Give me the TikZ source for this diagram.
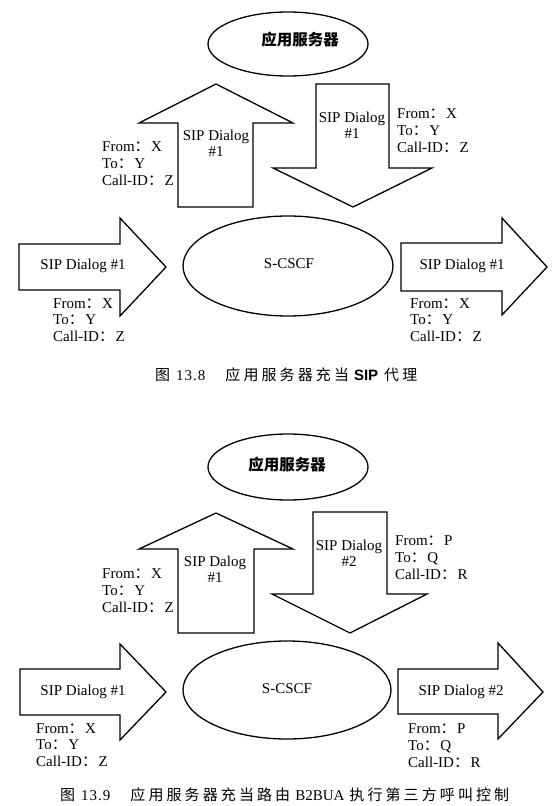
\documentclass[tikz,border=0pt]{standalone}
\usepackage{fontspec}
\setmainfont{Liberation Serif}
\newfontfamily\cjk{Noto Sans CJK SC}
\newfontfamily\capsans{Liberation Sans}
\usetikzlibrary{shapes.geometric}
\newcommand{\cc}{{\cjk ：}\hspace{1.5pt}}
\newcommand{\ck}{\hspace{3.1pt}}
\begin{document}
\begin{tikzpicture}[x=1pt,y=-1pt,
  blockarrow/.style={draw=black,line width=1.3pt,line join=miter,fill=white},
  oval/.style={draw=black,line width=1.3pt,ellipse,inner sep=0pt,fill=white},
  lbl/.style={inner sep=0pt,font=\fontsize{15}{16.8}\selectfont,align=left,anchor=west},
  atext/.style={inner sep=0pt,font=\fontsize{15}{16}\selectfont,align=center},
  astext/.style={inner sep=0pt,font=\cjk\bfseries\fontsize{15.5}{16}\selectfont},
  captext/.style={inner sep=0pt,anchor=west,font=\cjk\fontsize{15}{16}\selectfont}]
\useasboundingbox (0,0) rectangle (555,806);
\fill[white] (0,0) rectangle (555,806);

% ================= Figure 13.8 =================
\node[oval,minimum width=160pt,minimum height=64pt] (asA) at (288,44) {};
\node[astext] (asAt) at (300,40) {应用服务器};

\draw[blockarrow] (178,207) -- (178,123) -- (139,123) -- (216,84) -- (293,123) -- (253,123) -- (253,207) -- cycle;
\node[atext] (upA) at (216,143) {SIP Dialog\\\#1};
\node[lbl] (upAl) at (102,163.5) {From\cc X\\To\cc Y\\Call-ID\cc Z};

\draw[blockarrow] (316,84) -- (389,84) -- (389,168) -- (432,168) -- (353,207) -- (273,168) -- (316,168) -- cycle;
\node[atext] (dnA) at (352,125) {SIP Dialog\\\#1};
\node[lbl] (dnAl) at (397,130.5) {From\cc X\\To\cc Y\\Call-ID\cc Z};

\node[oval,minimum width=210pt,minimum height=100pt] (csA) at (288,266) {};
\node[atext] (csAt) at (289,264) {S-CSCF};

\draw[blockarrow] (19,244) -- (120,244) -- (120,218) -- (166,267) -- (120,316) -- (120,290) -- (19,290) -- cycle;
\node[atext] (inA) at (83,266) {SIP Dialog \#1};
\node[lbl] (inAl) at (53,320) {From\cc X\\To\cc Y\\Call-ID\cc Z};

\draw[blockarrow] (401,243) -- (502,243) -- (502,218) -- (547,267) -- (502,315) -- (502,291) -- (401,291) -- cycle;
\node[atext] (outA) at (462,266) {SIP Dialog \#1};
\node[lbl] (outAl) at (410,320) {From\cc X\\To\cc Y\\Call-ID\cc Z};

\node[captext] (capA) at (155,375) {图\hspace{6pt}{\rmfamily 1\kern1pt3\kern1pt.\kern1pt8}\hspace{20pt}应\ck{}用\ck{}服\ck{}务\ck{}器\ck{}充\ck{}当\hspace{5pt}{\capsans\bfseries SIP}\hspace{6pt}代\ck{}理};

% ================= Figure 13.9 =================
\node[oval,minimum width=160pt,minimum height=66pt] (asB) at (288,467) {};
\node[astext] (asBt) at (287,465) {应用服务器};

\draw[blockarrow] (178,633) -- (178,549) -- (139,549) -- (216,513) -- (293,549) -- (254,549) -- (254,633) -- cycle;
\node[atext] (upB) at (215,569) {SIP Dalog\\\#1};
\node[lbl] (upBl) at (102,590.5) {From\cc X\\To\cc Y\\Call-ID\cc Z};

\draw[blockarrow] (313,512) -- (387,512) -- (387,594) -- (427,594) -- (350,633) -- (272,594) -- (313,594) -- cycle;
\node[atext] (dnB) at (349,553) {SIP Dialog\\\#2};
\node[lbl] (dnBl) at (395,557.5) {From\cc P\\To\cc Q\\Call-ID\cc R};

\node[oval,minimum width=208pt,minimum height=98pt] (csB) at (287,690) {};
\node[atext] (csBt) at (287,689) {S-CSCF};

\draw[blockarrow] (20,669) -- (120,669) -- (120,644) -- (166,692) -- (120,740) -- (120,715) -- (20,715) -- cycle;
\node[atext] (inB) at (83,692) {SIP Dialog \#1};
\node[lbl] (inBl) at (36,745) {From\cc X\\To\cc Y\\Call-ID\cc Z};

\draw[blockarrow] (398,669) -- (498,669) -- (498,643) -- (543,692) -- (498,739) -- (498,714) -- (398,714) -- cycle;
\node[atext] (outB) at (461,692) {SIP Dialog \#2};
\node[lbl] (outBl) at (408,745.5) {From\cc P\\To\cc Q\\Call-ID\cc R};

\node[captext] (capB) at (60,795) {图\hspace{6pt}{\rmfamily 1\kern1pt3\kern1pt.\kern1pt9}\hspace{20pt}应\ck{}用\ck{}服\ck{}务\ck{}器\ck{}充\ck{}当\ck{}路\ck{}由\hspace{5pt}{\rmfamily B2BUA}\hspace{5pt}执\ck{}行\ck{}第\ck{}三\ck{}方\ck{}呼\ck{}叫\ck{}控\ck{}制};
\end{tikzpicture}
\end{document}
